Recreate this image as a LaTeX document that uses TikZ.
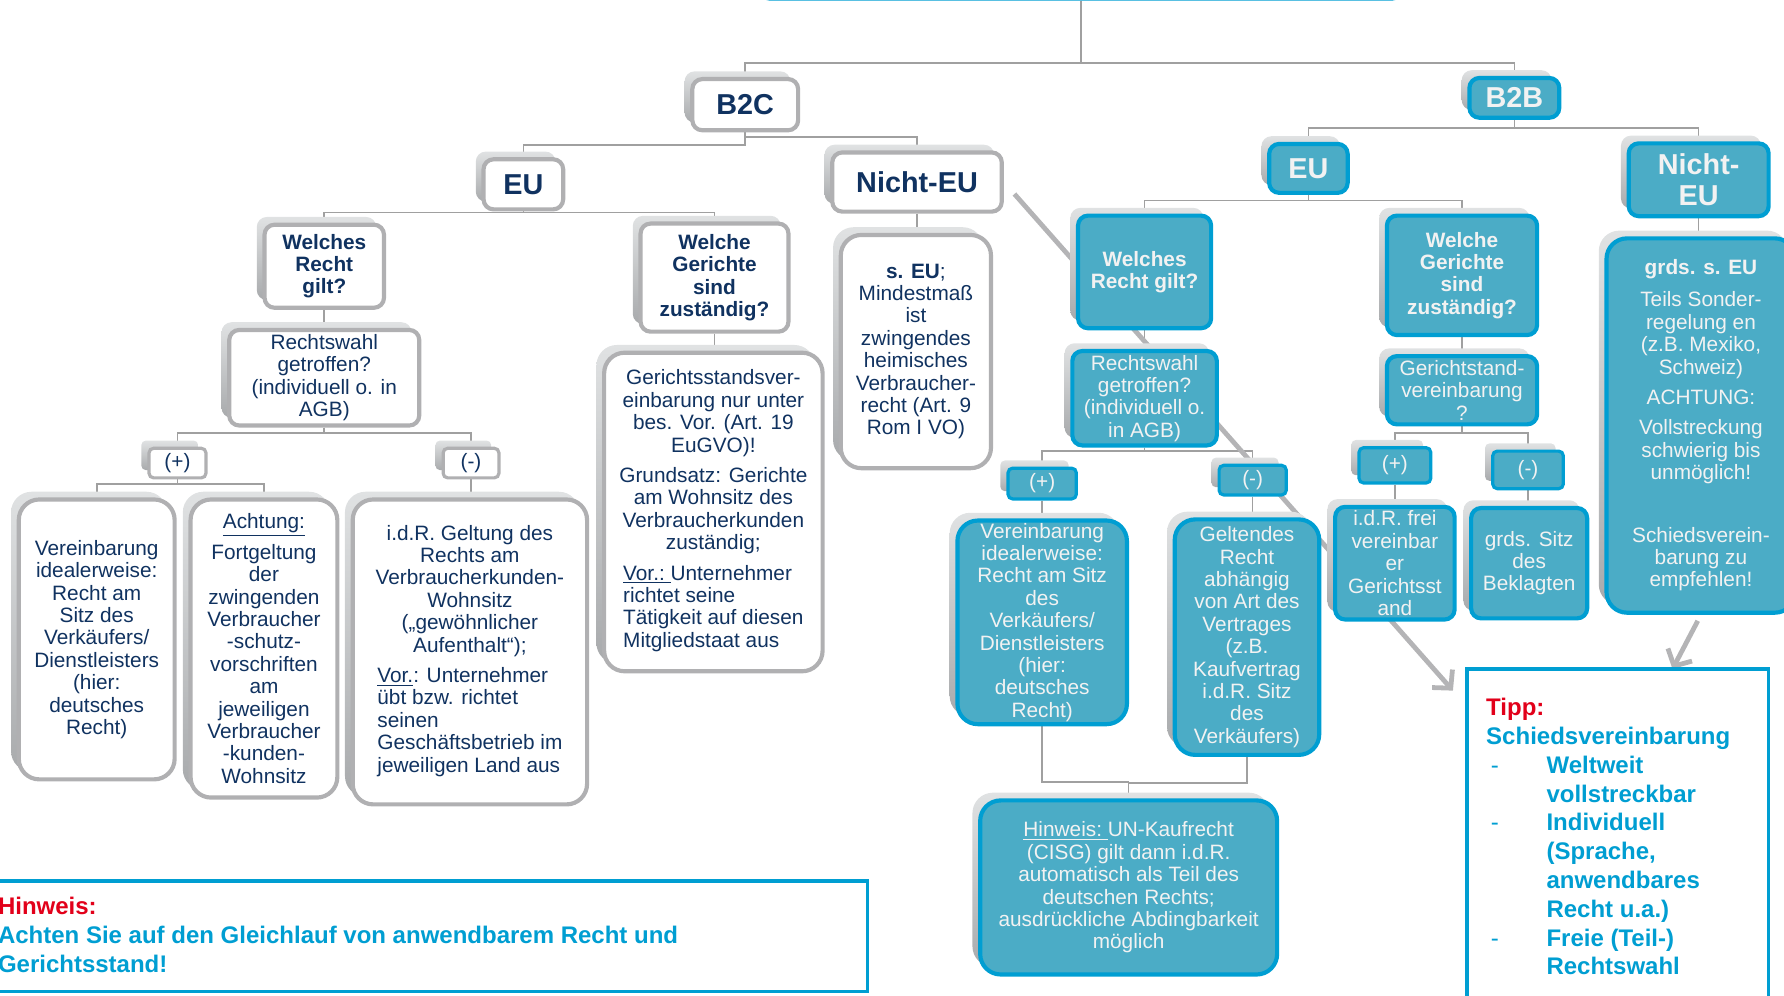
\documentclass[tikz,border=0pt]{standalone}
\usepackage{fontspec}
\setmainfont{Liberation Sans}
\usetikzlibrary{arrows.meta}
\usetikzlibrary{shadows}
\usetikzlibrary{backgrounds}
\definecolor{navy}{RGB}{16,50,96}
\definecolor{cyanline}{RGB}{0,158,210}
\definecolor{cyanfill}{RGB}{75,172,198}
\definecolor{greyline}{RGB}{176,176,178}
\definecolor{treeline}{RGB}{160,160,160}
\definecolor{shtop}{RGB}{224,226,227}
\definecolor{shbot}{RGB}{168,170,172}
\definecolor{hintred}{RGB}{226,0,26}
\definecolor{arrowgrey}{RGB}{180,180,182}
\definecolor{offwhite}{RGB}{242,242,242}
\newcommand{\bodyfont}{\fontsize{13}{14}\selectfont}
\newcommand{\askfont}{\fontsize{13}{14}\selectfont\bfseries}
\newcommand{\headfont}{\fontsize{18}{19}\selectfont\bfseries}
\newcommand{\tippfont}{\fontsize{15}{18}\selectfont\bfseries}
\tikzset{sz/.style 2 args = {minimum width=(#1-3)*0.025cm, minimum height=(#2-3)*0.025cm}}
\tikzset{boxshadow/.style = {general shadow={shadow xshift=-0.17cm, shadow yshift=0.17cm,
                                             top color=shtop, bottom color=shbot}}}
\tikzset{gbox/.style = {draw=greyline, line width=2.6pt, fill=white, rounded corners=0.22cm,
                        text=navy, align=center, inner sep=1pt, font=\bodyfont, boxshadow}}
\tikzset{bbox/.style = {draw=cyanline, line width=2.6pt, fill=cyanfill, rounded corners=0.22cm,
                        text=offwhite, align=center, inner sep=1pt, font=\bodyfont, boxshadow}}
\tikzset{tall/.style = {rounded corners=0.45cm}}
\tikzset{small/.style = {rounded corners=0.1cm, line width=2pt}}
\tikzset{tl/.style = {draw=treeline, line width=1pt}}
\tikzset{bigarrow/.style = {draw=arrowgrey, line width=3pt, -{Straight Barb[length=8pt,width=17pt]}}}
\tikzset{notebox/.style = {draw=cyanline, line width=2.2pt, fill=white}}

\begin{document}
\begin{tikzpicture}[x=0.025cm, y=-0.025cm]
    \useasboundingbox (0,0) rectangle (1568,875);
    \node [draw=cyanline, line width=2.2pt, fill=white, rounded corners=0.2cm, sz={566}{61}] (top) at (950,-30) {};
    % B2C
    \node [gbox, sz={96}{48}, font=\headfont] (b2c) at (655,92) {B2C};
    \node [gbox, sz={73}{47}, font=\headfont] (euc) at (460,162) {EU};
    \node [gbox, sz={152}{55}, font=\headfont] (nec) at (806,160) {Nicht-EU};
    \node [gbox, sz={108}{76}, font=\askfont] (wrc) at (285,234) {Welches\\Recht\\gilt?};
    \node [gbox, sz={133}{98}, font=\askfont] (wgc) at (628,244) {Welche\\Gerichte\\sind\\zuständig?};
    \node [gbox, sz={170}{87}] (rwc) at (285,332) {Rechtswahl\\getroffen?\\(individuell o. in\\AGB)};
    \node [gbox, small, sz={53}{29}] (plc) at (156,407) {(+)};
    \node [gbox, small, sz={52}{29}] (mic) at (414,407) {(-)};
    \node [gbox, tall, sz={140}{249}] (vbc) at (85,562) {Vereinbarung\\idealerweise:\\Recht am\\Sitz des\\Verkäufers/\\Dienstleisters\\(hier:\\deutsches\\Recht)};
    \node [gbox, tall, sz={132}{265}] (acc) at (232,570) {\underline{Achtung:}\\[4pt]Fortgeltung\\der\\zwingenden\\Verbraucher\\-schutz-\\vorschriften\\am\\jeweiligen\\Verbraucher\\-kunden-\\Wohnsitz};
    \node [gbox, tall, sz={209}{271}] (gdc) at (413,573) {i.d.R. Geltung des\\Rechts am\\Verbraucherkunden-\\Wohnsitz\\(„gewöhnlicher\\Aufenthalt“);\\[5pt]\begin{tabular}[t]{@{}l@{}}\underline{Vor.}: Unternehmer\\übt bzw. richtet\\seinen\\Geschäftsbetrieb im\\jeweiligen Land aus\end{tabular}};
    \node [gbox, tall, sz={195}{283}] (gsc) at (627,450) {Gerichtsstandsver-\\einbarung nur unter\\bes. Vor. (Art. 19\\EuGVO)!\\[5pt]Grundsatz: Gerichte\\am Wohnsitz des\\Verbraucherkunden\\zuständig;\\[5pt]\begin{tabular}[t]{@{}l@{}}\underline{Vor.:\ }Unternehmer\\richtet seine\\Tätigkeit auf diesen\\Mitgliedstaat aus\end{tabular}};
    \node [gbox, tall, sz={135}{208}] (seu) at (805,309) {\textbf{s. EU};\\Mindestmaß\\ist\\zwingendes\\heimisches\\Verbraucher-\\recht (Art. 9\\Rom I VO)};
    % B2B
    \node [bbox, sz={82}{38}, font=\headfont] (b2b) at (1331,86) {B2B};
    \node [bbox, sz={72}{46}, font=\headfont] (eub) at (1150,148) {EU};
    \node [bbox, sz={126}{67}, font=\headfont] (neb) at (1493,158) {Nicht-\\EU};
    \node [bbox, sz={120}{102}, font=\askfont] (wrb) at (1006,239) {Welches\\Recht gilt?};
    \node [bbox, sz={135}{108}, font=\askfont] (wgb) at (1285,242) {Welche\\Gerichte\\sind\\zuständig?};
    \node [bbox, sz={130}{86}] (rwb) at (1006,350) {Rechtswahl\\getroffen?\\(individuell o.\\in AGB)};
    \node [bbox, small, sz={63}{30}] (plb) at (916,425) {(+)};
    \node [bbox, small, sz={62}{29}] (mib) at (1101,422) {(-)};
    \node [bbox, tall, sz={152}{182}] (vbb) at (916,547) {Vereinbarung\\idealerweise:\\Recht am Sitz\\des\\Verkäufers/\\Dienstleisters\\(hier:\\deutsches\\Recht)};
    \node [bbox, tall, sz={130}{210}] (glb) at (1096,560) {Geltendes\\Recht\\abhängig\\von Art des\\Vertrages\\(z.B.\\Kaufvertrag\\i.d.R. Sitz\\des\\Verkäufers)};
    \node [bbox, tall, sz={264}{156}] (hwb) at (992,780) {\underline{Hinweis:\ }UN-Kaufrecht\\(CISG) gilt dann i.d.R.\\automatisch als Teil des\\deutschen Rechts;\\ausdrückliche Abdingbarkeit\\möglich};
    \node [bbox, sz={135}{63}] (gvb) at (1285,343) {Gerichtstand-\\vereinbarung\\?};
    \node [bbox, small, sz={66}{34}] (p2b) at (1226,409) {(+)};
    \node [bbox, small, sz={65}{36}] (m2b) at (1343,413) {(-)};
    \node [bbox, sz={108}{102}] (ifb) at (1226,495) {i.d.R. frei\\vereinbar\\er\\Gerichtsst\\and};
    \node [bbox, sz={105}{100}] (bkb) at (1344,495) {grds. Sitz\\des\\Beklagten};
    \node [bbox, tall, sz={169}{332}] (nxb) at (1495,374) {\textbf{grds. s. EU}\\[6pt]Teils Sonder-\\regelung en\\(z.B. Mexiko,\\Schweiz)\\[5pt]ACHTUNG:\\[5pt]Vollstreckung\\schwierig bis\\unmöglich!\\[25pt]Schiedsverein-\\barung zu\\empfehlen!};
    % notes
    \node [notebox, sz={268}{343}] (tipp) at (1422,758) {};
    \node [anchor=north west, inner sep=0pt, font=\tippfont, text=cyanline] (tipptext) at (1306,611)
      {\begin{tabular}{@{}p{1.325cm}@{}l@{}}
        \multicolumn{2}{@{}l@{}}{\textcolor{hintred}{Tipp:}}\\
        \multicolumn{2}{@{}l@{}}{Schiedsvereinbarung}\\
        \mdseries\hspace{0.1cm}- & Weltweit\\
         & vollstreckbar\\
        \mdseries\hspace{0.1cm}- & Individuell\\
         & (Sprache,\\
         & anwendbares\\
         & Recht u.a.)\\
        \mdseries\hspace{0.1cm}- & Freie (Teil-)\\
         & Rechtswahl
      \end{tabular}};
    \node [notebox, sz={774}{100}] (hint) at (377,823) {};
    \node [anchor=north west, inner sep=0pt, font=\tippfont, text=cyanline] (hinttext) at (-2,786)
      {\begin{tabular}{@{}l@{}}\textcolor{hintred}{Hinweis:}\\Achten Sie auf den Gleichlauf von anwendbarem Recht und\\Gerichtsstand!\end{tabular}};
    \coordinate (tipin) at (1277,607);
    \coordinate (tipin2) at (1470,588);
    \begin{scope}[on background layer]
      \draw [tl] (top.south) -- ++(0,55) -| (b2c.north);
      \draw [tl] (top.south) -- ++(0,55) -| (b2b.north);
      \draw [tl] (b2c.south) -- ++(0,11) -| (euc.north);
      \draw [tl] (b2c.south) -- ++(0,4) -| (nec.north);
      \draw [tl] (euc.south) -- ++(0,1) -| (wrc.north);
      \draw [tl] (euc.south) -- ++(0,1) -| (wgc.north);
      \draw [tl] (wrc.south) -- (wrc.south |- rwc.north);
      \draw [tl] (rwc.south) -- ++(0,5) -| (plc.north);
      \draw [tl] (rwc.south) -- ++(0,5) -| (mic.north);
      \draw [tl] (plc.south) -- ++(0,4) -| (vbc.north);
      \draw [tl] (plc.south) -- ++(0,4) -| (acc.north);
      \draw [tl] (mic.south) -- (mic.south |- gdc.north);
      \draw [tl] (wgc.south) -- (wgc.south |- gsc.north);
      \draw [tl] (nec.south) -- (nec.south |- seu.north);
      \draw [tl] (b2b.south) -- ++(0,7) -| (eub.north);
      \draw [tl] (b2b.south) -- ++(0,7) -| (neb.north);
      \draw [tl] (eub.south) -- ++(0,5) -| (wrb.north);
      \draw [tl] (eub.south) -- ++(0,5) -| (wgb.north);
      \draw [tl] (wrb.south) -- (wrb.south |- rwb.north);
      \draw [tl] (rwb.south) -- ++(0,3) -| (plb.north);
      \draw [tl] (rwb.south) -- ++(0,3) -| (mib.north);
      \draw [tl] (plb.south) -- (plb.south |- vbb.north);
      \draw [tl] (mib.south) -- (mib.south |- glb.north);
      \draw [tl] (vbb.south) -- ++(0,49) -| (hwb.north);
      \draw [tl] (glb.south) -- ++(0,23) -| (hwb.north);
      \draw [tl] (wgb.south) -- (wgb.south |- gvb.north);
      \draw [tl] (gvb.south) -- ++(0,6) -| (p2b.north);
      \draw [tl] (gvb.south) -- ++(0,6) -| (m2b.north);
      \draw [tl] (p2b.south) -- (p2b.south |- ifb.north);
      \draw [tl] (m2b.south) -- (m2b.south |- bkb.north);
      \draw [tl] (neb.south) -- (neb.south |- nxb.north);
      \draw [bigarrow, shorten <=0.35cm] (nec.east) -- (tipin);
      \draw [bigarrow, shorten <=0.15cm] (nxb.south) -- (tipin2);
    \end{scope}
\end{tikzpicture}
\end{document}
